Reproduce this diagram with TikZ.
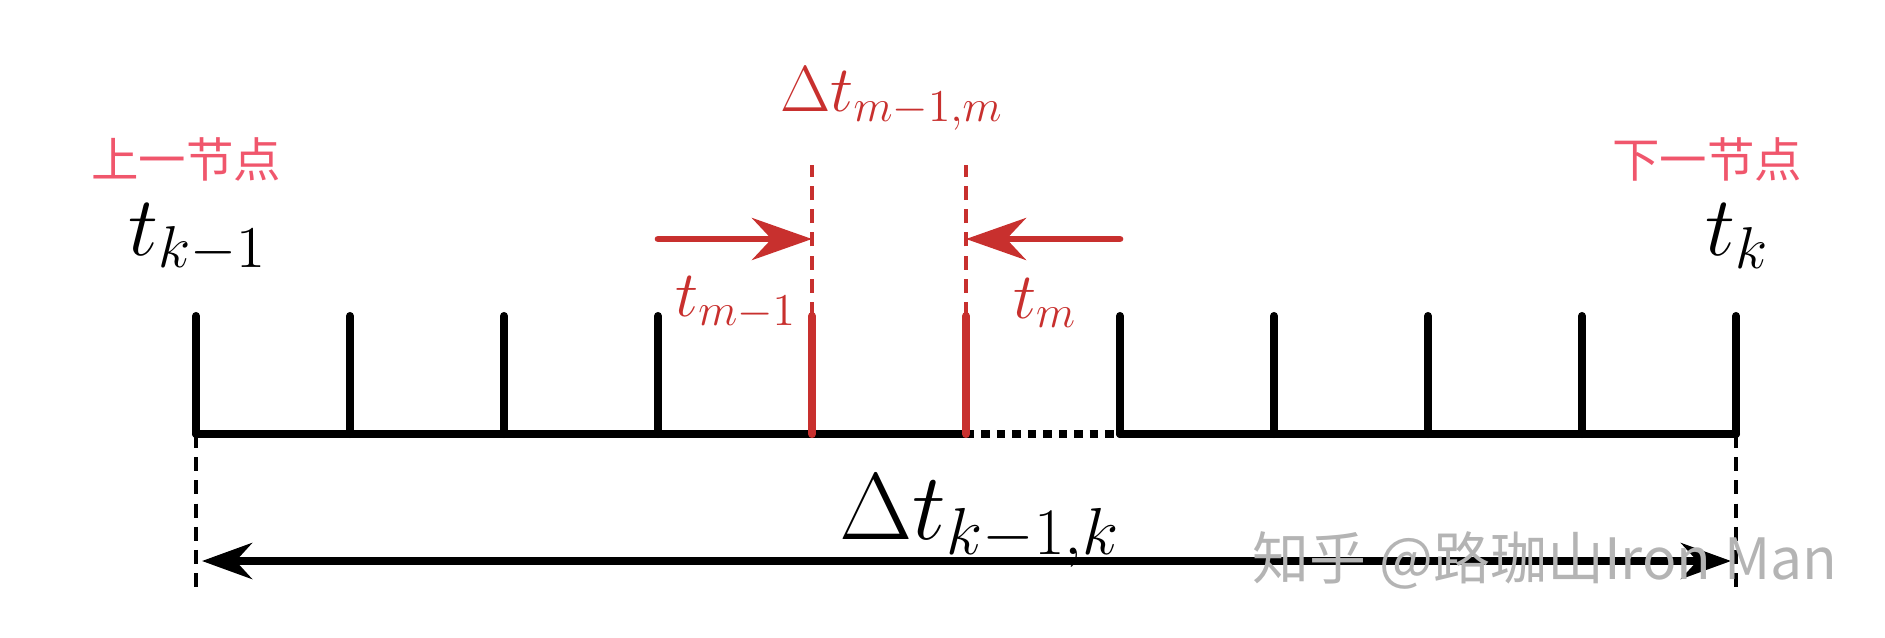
\RequirePackage{fix-cm}
\documentclass[tikz,border=0pt]{standalone}
\usepackage{fontspec}
\newfontfamily\cjk{Noto Sans CJK SC}
\usetikzlibrary{arrows.meta, calc}
\definecolor{tickred}{HTML}{C8302E}
\definecolor{notepink}{HTML}{F0566C}
\definecolor{markgray}{HTML}{B4B4B4}

\begin{document}
\begin{tikzpicture}[
  >={Stealth[length=5mm, width=3.6mm]},
  tickline/.style={line width=2.3pt, line cap=round},
  guide/.style={line width=1.1pt, dash pattern=on 4pt off 2.6pt},
  redarr/.style={-{Stealth[length=6mm, width=4.2mm]}, line width=1.9pt, tickred, line cap=round},
  biglabel/.style={font=\fontsize{24}{28}\selectfont},
  redlabel/.style={font=\fontsize{18.5}{22}\selectfont, text=tickred},
  cjklabel/.style={font=\cjk\fontsize{13.5}{16}\selectfont, text=notepink},
]

\useasboundingbox (0,0) rectangle (18.85,6.37);

% ---- Tick positions ----
\foreach \i in {0,...,10}{
  \coordinate (b\i) at ({1.96+1.54*\i},2.03);
  \coordinate (u\i) at ({1.96+1.54*\i},3.21);
}

% ---- Base line ----
\draw[tickline] (b0) -- (b5);
\draw[tickline, line cap=butt, dash pattern=on 2.4pt off 2pt] (b5) -- (b6);
\draw[tickline] (b6) -- (b10);

% ---- Ticks ----
\foreach \i in {0,1,2,3,6,7,8,9,10}
  \draw[tickline] (b\i) -- (u\i);
\foreach \i in {4,5}
  \draw[tickline, tickred] (b\i) -- (u\i);

% ---- Red guides and arrows ----
\coordinate (g4) at ($(u4)+(0,1.51)$);
\coordinate (g5) at ($(u5)+(0,1.51)$);
\coordinate (h4) at ($(u4)+(0,0.77)$);
\coordinate (h5) at ($(u5)+(0,0.77)$);
\coordinate (a3) at ($(u3)+(0,0.77)$);
\coordinate (a6) at ($(u6)+(0,0.77)$);
\draw[guide, tickred] (u4) -- (g4);
\draw[guide, tickred] (u5) -- (g5);
\draw[redarr] (a3) -- (h4);
\draw[redarr] (a6) -- (h5);

% ---- Span below ----
\coordinate (d0) at ($(b0)-(0,1.57)$);
\coordinate (d10) at ($(b10)-(0,1.57)$);
\coordinate (l0) at ($(b0)+(0.06,-1.27)$);
\coordinate (l10) at ($(b10)+(-0.05,-1.27)$);
\draw[guide] (b0) -- (d0);
\draw[guide] (b10) -- (d10);
\draw[<->, line width=2pt] (l0) -- (l10);

% ---- Labels ----
\node[cjklabel] (prev) at (1.86,4.78) {上一节点};
\node[cjklabel] (next) at (17.07,4.78) {下一节点};
\node[biglabel] (tk1) at (1.98,3.99) {$t_{k-1}$};
\node[biglabel] (tk) at (17.37,4.01) {$t_k$};
\node[redlabel] (tm1) at (7.36,3.34) {$t_{m-1}$};
\node[redlabel] (tm) at (10.45,3.34) {$t_m$};
\node[redlabel] (dtm) at (8.92,5.38) {$\Delta t_{m-1,m}$};
\node[font=\fontsize{27}{31}\selectfont] (dtk) at (9.80,1.16) {$\Delta t_{k-1,k}$};

% ---- Watermark ----
\node[font=\cjk\fontsize{16.2}{19}\selectfont, text=markgray] (mark) at (15.45,0.77)
  {知乎 @路珈山Iron Man};

\end{tikzpicture}
\end{document}
